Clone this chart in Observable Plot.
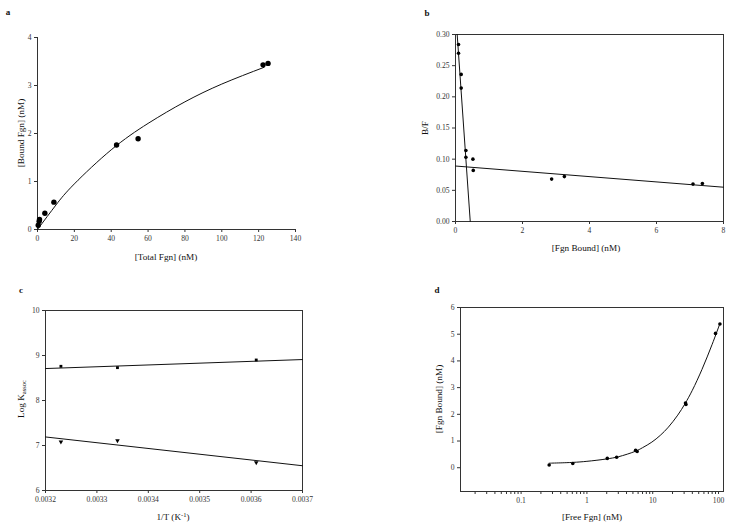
<!DOCTYPE html>
<html><head><meta charset="utf-8">
<script src="https://cdn.jsdelivr.net/npm/d3@7"></script>
<script src="https://cdn.jsdelivr.net/npm/@observablehq/plot@0.6"></script>
<style>
html,body{margin:0;padding:0;background:#fff}
#wrap{position:relative;width:736px;height:528px;background:#fff;overflow:hidden}
#wrap svg{position:absolute}
</style></head><body><div id="wrap"></div>
<script>
// ---- Panel a: saturation binding ----
const aTotal = [0.4, 0.9, 1.1, 4.0, 8.9, 42.9, 54.6, 122.4, 125.1];
const aBound = [0.09, 0.17, 0.21, 0.34, 0.57, 1.76, 1.89, 3.43, 3.46];
const aFitX = [0, 10, 20, 40, 60, 80, 100, 123];
const aFitY = [0, 0.51, 0.95, 1.66, 2.21, 2.66, 3.03, 3.38];
const aXTicks = [0, 20, 40, 60, 80, 100, 120, 140];
const aYTicks = [0, 1, 2, 3, 4];

// ---- Panel b: Scatchard ----
const bBound = [0.09, 0.09, 0.17, 0.17, 0.31, 0.31, 0.52, 0.53, 2.87, 3.25, 7.09, 7.37];
const bRatio = [0.284, 0.270, 0.236, 0.214, 0.114, 0.103, 0.100, 0.082, 0.068, 0.072, 0.060, 0.061];
const bSteepX = [0.05, 0.44];
const bSteepY = [0.30, 0.00];
const bShallowX = [0, 8];
const bShallowY = [0.089, 0.055];
const bXTicks = [0, 2, 4, 6, 8];
const bYTicks = [0, 0.05, 0.10, 0.15, 0.20, 0.25, 0.30];

// ---- Panel c: van 't Hoff ----
const cInvT = [0.00323, 0.00334, 0.00361];
const cHigh = [8.76, 8.73, 8.90];
const cLow = [7.08, 7.11, 6.62];
const cFitX = [0.0032, 0.0037];
const cFitHigh = [8.71, 8.91];
const cFitLow = [7.19, 6.55];
const cXTicks = [0.0032, 0.0033, 0.0034, 0.0035, 0.0036, 0.0037];
const cYTicks = [6, 7, 8, 9, 10];

// ---- Panel d: semi-log binding ----
const dFree = [0.267, 0.61, 2.04, 2.83, 5.5, 5.8, 31.5, 32, 90, 105];
const dBound = [0.10, 0.16, 0.35, 0.39, 0.65, 0.61, 2.42, 2.37, 5.03, 5.38];
const dFitX = [0.267, 0.61, 1.0, 2.0, 3.0, 5.5, 7, 9.7, 13, 17.3, 24, 31, 40, 56, 80, 105];
const dFitY = [0.17, 0.20, 0.24, 0.33, 0.41, 0.62, 0.75, 0.96, 1.21, 1.52, 1.97, 2.40, 2.90, 3.68, 4.62, 5.40];
const dMajor = [0.1, 1, 10, 100];
const dMinor = [0.02,0.03,0.04,0.05,0.06,0.07,0.08,0.09,0.2,0.3,0.4,0.5,0.6,0.7,0.8,0.9,2,3,4,5,6,7,8,9,20,30,40,50,60,70,80,90];
const dYTicks = [0, 1, 2, 3, 4, 5, 6];

const zip = (xs, ys) => xs.map((x, i) => ({x, y: ys[i]}));
const FONT = "'Liberation Serif','Times New Roman',serif";
const AX = "#333";
const style = {fontFamily: FONT, fontSize: "7.6px", background: "transparent", color: AX, overflow: "visible"};
const wrap = document.getElementById("wrap");
const plain = (d) => String(d);

function place(svg, left, top) {
  svg.style.left = left + "px";
  svg.style.top = top + "px";
  wrap.appendChild(svg);
  return d3.select(svg);
}
function label(sel, x, y, str, rotate, size, bold) {
  const t = sel.append("text")
    .attr("transform", `translate(${x},${y})` + (rotate ? " rotate(-90)" : ""))
    .attr("text-anchor", "middle").attr("dy", "0.35em")
    .attr("fill", "#111").attr("font-size", (size || 9.2) + "px")
    .style("font-family", FONT);
  if (bold) t.attr("font-weight", "bold");
  t.text(str);
  return t;
}

// Panel a
const pa = Plot.plot({
  width: 368, height: 264, marginLeft: 37, marginRight: 73, marginTop: 37, marginBottom: 35,
  style,
  x: {domain: [0, 140]},
  y: {domain: [0, 4]},
  marks: [
    Plot.axisX({ticks: aXTicks, tickSize: 3, tickPadding: 3, tickFormat: plain, label: null}),
    Plot.axisY({ticks: aYTicks, tickSize: 3, tickPadding: 3, tickFormat: plain, label: null}),
    Plot.ruleY([0], {stroke: AX}),
    Plot.ruleX([0], {stroke: AX}),
    Plot.line(zip(aFitX, aFitY), {x: "x", y: "y", curve: "natural", stroke: "#111", strokeWidth: 1}),
    Plot.dot(zip(aTotal, aBound), {x: "x", y: "y", r: 2.7, fill: "#000", stroke: "none"})
  ]
});
const sa = place(pa, 0, 0);
label(sa, 166, 257, "[Total Fgn] (nM)");
label(sa, 21, 133, "[Bound Fgn] (nM)", true);
label(sa, 8, 12, "a", false, 9, true);

// Panel b
const pb = Plot.plot({
  width: 368, height: 264, marginLeft: 87, marginRight: 13, marginTop: 34, marginBottom: 43,
  style,
  x: {domain: [0, 8]},
  y: {domain: [0, 0.30]},
  marks: [
    Plot.frame({stroke: AX}),
    Plot.axisX({ticks: bXTicks, tickSize: 3, tickPadding: 3, tickFormat: plain, label: null}),
    Plot.axisY({ticks: bYTicks, tickSize: 3, tickPadding: 3, tickFormat: ".2f", label: null}),
    Plot.line(zip(bSteepX, bSteepY), {x: "x", y: "y", stroke: "#111", strokeWidth: 1}),
    Plot.line(zip(bShallowX, bShallowY), {x: "x", y: "y", stroke: "#111", strokeWidth: 1}),
    Plot.dot(zip(bBound, bRatio), {x: "x", y: "y", r: 1.8, fill: "#000", stroke: "none"})
  ]
});
const sb = place(pb, 368, 0);
label(sb, 218, 248, "[Fgn Bound] (nM)");
label(sb, 57, 128, "B/F", true);
label(sb, 59, 13, "b", false, 9, true);

// Panel c
const pc = Plot.plot({
  width: 368, height: 264, marginLeft: 45, marginRight: 66, marginTop: 46, marginBottom: 38,
  style,
  x: {domain: [0.0032, 0.0037]},
  y: {domain: [6, 10]},
  marks: [
    Plot.frame({stroke: AX}),
    Plot.axisX({ticks: cXTicks, tickSize: 3, tickPadding: 3, tickFormat: ".4f", label: null}),
    Plot.axisY({ticks: cYTicks, tickSize: 3, tickPadding: 3, tickFormat: plain, label: null}),
    Plot.line(zip(cFitX, cFitHigh), {x: "x", y: "y", stroke: "#111", strokeWidth: 1}),
    Plot.line(zip(cFitX, cFitLow), {x: "x", y: "y", stroke: "#111", strokeWidth: 1}),
    Plot.dot(zip(cInvT, cHigh), {x: "x", y: "y", r: 1.6, symbol: "square", fill: "#000", stroke: "none"}),
    Plot.dot(zip(cInvT, cLow), {x: "x", y: "y", r: 1.7, symbol: "triangle", rotate: 180, fill: "#000", stroke: "none"})
  ]
});
const sc = place(pc, 0, 264);
{
  const t = label(sc, 173, 253, "");
  t.append("tspan").text("1/T (K");
  t.append("tspan").attr("dy", "-3").attr("font-size", "6.5px").text("-1");
  t.append("tspan").attr("dy", "3").text(")");
  const u = label(sc, 21, 135, "", true);
  u.append("tspan").text("Log K");
  u.append("tspan").attr("dy", "2").attr("font-size", "6.5px").text("assoc");
}
label(sc, 21, 26, "c", false, 9, true);

// Panel d
const pd = Plot.plot({
  width: 368, height: 264, marginLeft: 92, marginRight: 13, marginTop: 43, marginBottom: 37,
  style,
  x: {type: "log", domain: [0.012, 119]},
  y: {domain: [-0.89, 6]},
  marks: [
    Plot.frame({stroke: AX}),
    Plot.axisX({ticks: dMinor, tickSize: 3, tickFormat: () => "", label: null}),
    Plot.axisX({ticks: dMajor, tickSize: 3, tickPadding: 3, tickFormat: plain, label: null}),
    Plot.axisY({ticks: dYTicks, tickSize: 3, tickPadding: 3, tickFormat: plain, label: null}),
    Plot.line(zip(dFitX, dFitY), {x: "x", y: "y", curve: "catmull-rom", stroke: "#111", strokeWidth: 1}),
    Plot.dot(zip(dFree, dBound), {x: "x", y: "y", r: 1.8, fill: "#000", stroke: "none"})
  ]
});
const sd = place(pd, 368, 264);
label(sd, 224, 253, "[Free Fgn] (nM)");
label(sd, 71, 135, "[Fgn Bound] (nM)", true);
label(sd, 69, 26, "d", false, 9, true);
</script></body></html>
